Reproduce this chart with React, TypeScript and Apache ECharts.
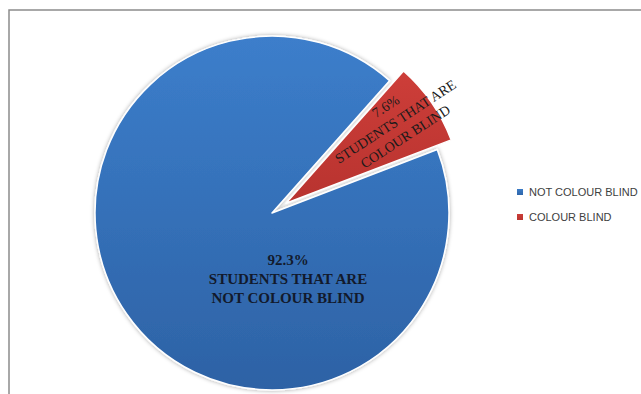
import React, { useEffect, useRef } from "react";
import * as echarts from "echarts";

const categories = ["NOT COLOUR BLIND", "COLOUR BLIND"];
const percents = [92.3, 7.6];
const labelTexts = ["STUDENTS THAT ARE\nNOT COLOUR BLIND", "STUDENTS THAT ARE\nCOLOUR BLIND"];

export default function App() {
  const ref = useRef<HTMLDivElement>(null);
  useEffect(() => {
    if (!ref.current) return;
    const chart = echarts.init(ref.current, null, { renderer: "svg" });
    const blueGrad = {
      type: "linear", x: 0, y: 0, x2: 0, y2: 1,
      colorStops: [
        { offset: 0, color: "#3c7ecb" },
        { offset: 1, color: "#2d62a5" },
      ],
    };
    const redGrad = {
      type: "linear", x: 0, y: 0, x2: 0, y2: 1,
      colorStops: [
        { offset: 0, color: "#cd3e39" },
        { offset: 1, color: "#b8332f" },
      ],
    };
    chart.setOption({
      animation: false,
      backgroundColor: "#ffffff",
      graphic: [
        {
          type: "rect",
          shape: { x: 9, y: 10, width: 800, height: 600 },
          style: { fill: "none", stroke: "#8c8c8c", lineWidth: 1.5 },
          z: 0,
        },
      ],
      legend: {
        orient: "vertical",
        left: 515,
        top: 186,
        padding: 0,
        itemWidth: 8,
        itemHeight: 8,
        itemGap: 13,
        icon: "rect",
        data: categories,
        textStyle: {
          fontFamily: "Liberation Sans, Arial, sans-serif",
          fontSize: 11,
          color: "#404040",
          lineHeight: 12,
        },
      },
      series: [
        {
          type: "pie",
          center: [272, 213],
          radius: 177,
          startAngle: 21,
          clockwise: true,
          selectedMode: "single",
          selectedOffset: 17,
          avoidLabelOverlap: false,
          labelLine: { show: false },
          itemStyle: { borderColor: "#ffffff", borderWidth: 1.5 },
          label: {
            show: true,
            position: "inside",
            fontFamily: "Liberation Serif, Times New Roman, serif",
          },
          labelLayout: (params: any) => {
            if (params.dataIndex === 0) {
              return { x: 288, y: 279, align: "center", verticalAlign: "middle" };
            }
            return { dx: 45, dy: -6 };
          },
          data: [
            {
              name: categories[0],
              value: percents[0],
              itemStyle: {
                color: blueGrad,
                shadowBlur: 4,
                shadowColor: "rgba(0,0,0,0.35)",
              },
              label: {
                formatter: (p: any) => p.value + "%\n" + labelTexts[0],
                fontSize: 15,
                fontWeight: "bold",
                lineHeight: 19,
                color: "#121a2c",
                align: "center",
              },
            },
            {
              name: categories[1],
              value: percents[1],
              selected: true,
              itemStyle: { color: redGrad },
              label: {
                formatter: (p: any) => p.value + "%\n" + labelTexts[1],
                fontSize: 14,
                fontWeight: "normal",
                lineHeight: 18,
                rotate: 33,
                color: "#1a1a1a",
                align: "center",
              },
            },
          ],
        },
      ],
    } as any);
    return () => chart.dispose();
  }, []);
  return (
    <div
      ref={ref}
      style={{ position: "fixed", left: 0, top: 0, width: 641, height: 394 }}
    />
  );
}
